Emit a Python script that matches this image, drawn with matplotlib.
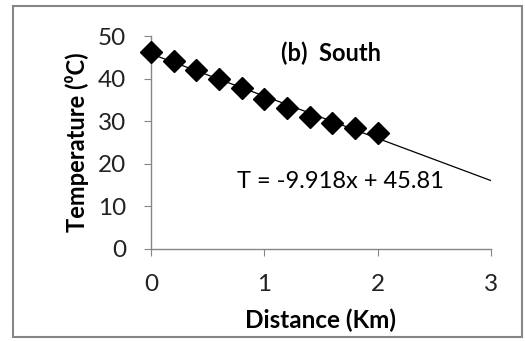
import numpy as np
import matplotlib
matplotlib.use("Agg")
import matplotlib.pyplot as plt
from matplotlib.patches import Rectangle

plt.rcParams["font.family"] = ["Lato", "DejaVu Sans"]

distance = [0.0, 0.2, 0.4, 0.6, 0.8, 1.0, 1.2, 1.4, 1.6, 1.8, 2.0]
temperature = [46.3, 44.1, 42.0, 39.8, 37.7, 35.2, 33.2, 31.1, 29.5, 28.3, 27.3]
slope = -9.918
intercept = 45.81
trend_x = [0, 3]

GRID = "#868686"

fig = plt.figure(figsize=(5.25, 3.41), dpi=100)
fig.patch.set_facecolor("white")
fig.patches.append(Rectangle((0.025, 0.013), 0.97, 0.968, transform=fig.transFigure,
                             fill=False, edgecolor=GRID, lw=1.5))
ax = fig.add_axes([0.2876, 0.2698, 0.6476, 0.6246])

tx = np.array(trend_x, dtype=float)
ax.plot(tx, slope * tx + intercept, color="black", lw=0.9, zorder=2)
ax.plot(distance, temperature, linestyle="none", marker="D", ms=11.5,
        color="black", zorder=3, clip_on=False)

ax.set_xlim(0, 3)
ax.set_ylim(0, 50)
ax.set_xticks([0, 1, 2, 3])
ax.set_yticks([0, 10, 20, 30, 40, 50])
ax.tick_params(axis="both", direction="out", length=5, color=GRID,
               labelsize=17.5, labelcolor="#222222")
ax.tick_params(axis="x", pad=13)
ax.tick_params(axis="y", pad=13)
for s in ["top", "right"]:
    ax.spines[s].set_visible(False)
for s in ["left", "bottom"]:
    ax.spines[s].set_color(GRID)
    ax.spines[s].set_linewidth(1.0)

ax.set_xlabel("Distance (Km)", fontsize=17.5, fontweight="bold", labelpad=10)
ax.set_ylabel("Temperature (\u2070C)", fontsize=17, fontweight="bold", labelpad=6)

ax.text(1.15, 45.9, "(b)  South", fontsize=17, fontweight="bold", va="center")
ax.text(0.756, 15.8, "T = -9.918x + 45.81", fontsize=17, va="center")

fig.savefig("out.png", dpi=100)
